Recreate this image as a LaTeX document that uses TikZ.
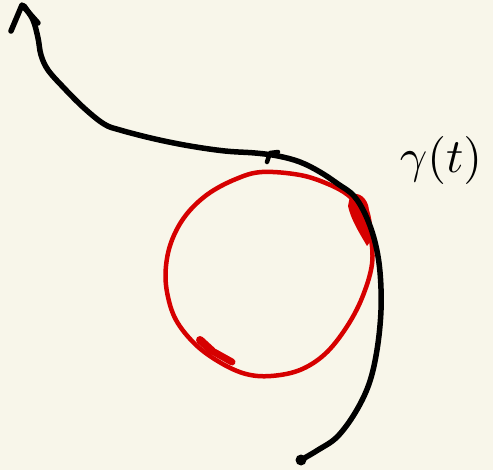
\documentclass[tikz,border=0pt]{standalone}
\begin{document}
\begin{tikzpicture}[x=1pt,y=-1pt,
  ink/.style={line width=5.5pt,line cap=round,line join=round,draw=black},
  redink/.style={line width=4.5pt,line cap=round,line join=round,draw=sketchred}]
\definecolor{paper}{RGB}{248,246,234}
\definecolor{sketchred}{RGB}{214,0,0}
\fill[paper] (0,0) rectangle (493,470);
\useasboundingbox (0,0) rectangle (493,470);
% red circle
\draw[redink] plot[smooth cycle, tension=0.6] coordinates {
 (262,172) (236,179) (208,194) (186,215) (172,240) (166,266) (167,292)
 (176,320) (196,345) (221,363) (246,374) (271,376) (300,370) (325,354)
 (346,328) (362,298) (372,264) (370,234) (361,210) (348,195) (328,184) (300,175)};
% red blobs
\fill[sketchred] (350,196) .. controls (358,190) and (368,198) .. (369,210)
  .. controls (374,226) and (373,240) .. (367,246)
  .. controls (360,234) and (351,220) .. (348,206) -- cycle;
\draw[sketchred,line width=8pt,line cap=round] (200,340) -- (212,351);
\draw[sketchred,line width=7pt,line cap=round] (214,352) -- (232,362);
% black curve
\draw[ink] plot[smooth, tension=0.6] coordinates {
 (301,460) (318,450) (337,437) (355,413) (369,384) (377,350) (381,310)
 (380,272) (375,242) (366,216) (354,196) (338,184) (320,172) (300,162)
 (278,156) (255,153) (225,151) (190,146) (155,139) (120,130) (104,124)
 (84,108) (64,88) (48,70) (41,55) (38,38) (33,20) (24,6)};
% arrowhead
\draw[ink] (11,31) -- (22,5) -- (38,23);
% mid tick
\draw[ink,line width=4.5pt] (267,162) -- (270,153) -- (278,152);
% start dot
\fill (301,460) circle (5.5);
% label
\node[anchor=center,inner sep=0pt,scale=4.8] (lbl) at (441,161) {$\gamma(t)$};
\end{tikzpicture}
\end{document}
